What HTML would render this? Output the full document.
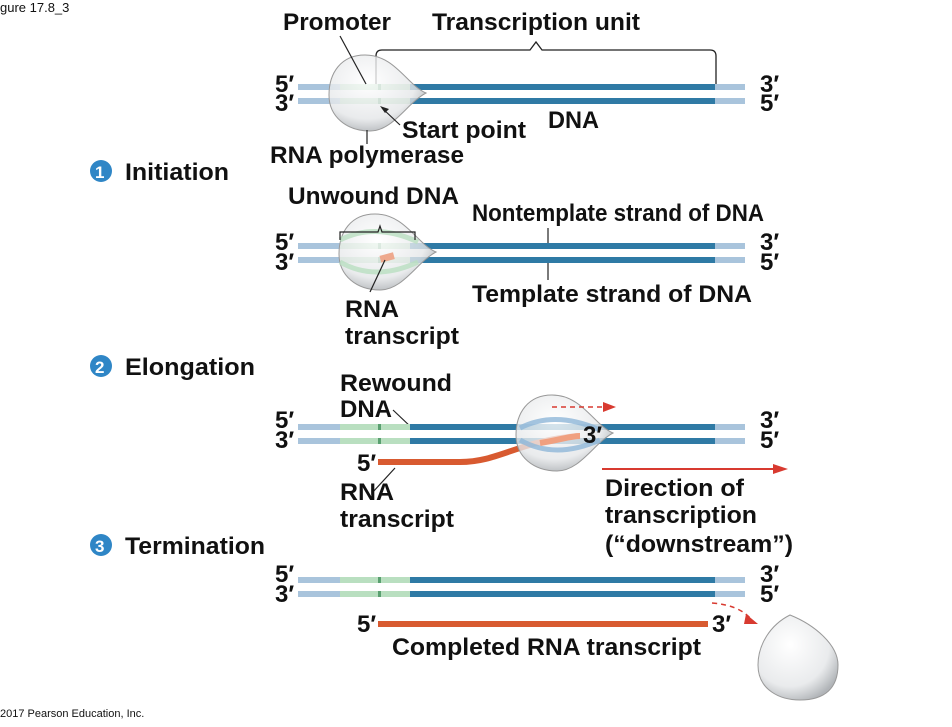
<!DOCTYPE html>
<html><head><meta charset="utf-8"><style>
body{margin:0;background:#fff;}
text{font-family:"Liberation Sans",Arial,sans-serif;font-weight:bold;fill:#111;}
</style></head><body>
<svg width="952" height="722" viewBox="0 0 952 722" xmlns="http://www.w3.org/2000/svg">
<defs>
<radialGradient id="pg" cx="0.4" cy="0.35" r="0.7">
<stop offset="0" stop-color="#ffffff" stop-opacity="0.8"/>
<stop offset="0.7" stop-color="#e4e6e8" stop-opacity="0.8"/>
<stop offset="1" stop-color="#a8acb0" stop-opacity="0.9"/>
</radialGradient>
<g id="strand">
<rect x="298" y="0" width="42" height="6" fill="#a9c4dc"/>
<rect x="340" y="0" width="70" height="6" fill="#b9dfc0"/>
<rect x="378" y="0" width="3" height="6" fill="#5aa070"/>
<rect x="410" y="0" width="305" height="6" fill="#2f7aa5"/>
<rect x="715" y="0" width="30" height="6" fill="#a9c4dc"/>
</g>
<path id="blob" d="M0,-38 C-24,-38 -36,-20 -36,2 C-36,24 -18,38 5,38 C28,38 42,10 61,0 C42,-8 30,-38 0,-38Z"/>
</defs>
<text x="0" y="12" font-size="13" style="font-weight:normal">gure 17.8_3</text>
<text x="0" y="717" font-size="11" style="font-weight:normal">2017 Pearson Education, Inc.</text>

<!-- Row 0 -->
<text x="283" y="30" font-size="24" textLength="108" lengthAdjust="spacingAndGlyphs">Promoter</text>
<text x="432" y="30" font-size="24" textLength="208" lengthAdjust="spacingAndGlyphs">Transcription unit</text>
<path d="M376,86 V56 Q376,50 382,50 H530 L536,42 L542,50 H710 Q716,50 716,56 V86" fill="none" stroke="#222" stroke-width="1.3"/>
<use href="#strand" y="84"/><use href="#strand" y="98"/>
<use href="#blob" transform="translate(365,93)" fill="url(#pg)" stroke="#999"/>
<line x1="340" y1="36" x2="366" y2="84" stroke="#222" stroke-width="1.2"/>
<line x1="367" y1="130" x2="367" y2="144" stroke="#222" stroke-width="1.2"/>
<line x1="400" y1="125" x2="382" y2="108" stroke="#222" stroke-width="1.2"/>
<path d="M380,106 l9,3 -4,4z" fill="#222"/>
<text x="275" y="92" font-size="24">5′</text><text x="275" y="111" font-size="24">3′</text>
<text x="760" y="92" font-size="24">3′</text><text x="760" y="111" font-size="24">5′</text>
<text x="402" y="138" font-size="24" textLength="124" lengthAdjust="spacingAndGlyphs">Start point</text>
<text x="548" y="128" font-size="24" textLength="51" lengthAdjust="spacingAndGlyphs">DNA</text>
<text x="270" y="163" font-size="24" textLength="194" lengthAdjust="spacingAndGlyphs">RNA polymerase</text>

<!-- Row 1 -->
<circle cx="101" cy="171" r="11" fill="#2f86c6"/><text x="95" y="178" font-size="17" style="fill:#fff">1</text>
<text x="125" y="180" font-size="24" textLength="104" lengthAdjust="spacingAndGlyphs">Initiation</text>
<text x="288" y="204" font-size="24" textLength="171" lengthAdjust="spacingAndGlyphs">Unwound DNA</text>
<text x="472" y="221" font-size="24" textLength="292" lengthAdjust="spacingAndGlyphs">Nontemplate strand of DNA</text>
<use href="#strand" y="243"/><use href="#strand" y="257"/>
<use href="#blob" transform="translate(375,252)" fill="url(#pg)" stroke="#999"/>
<path d="M340,240 Q375,222 418,242" fill="none" stroke="#b9dfc0" stroke-width="5" opacity="0.8"/>
<path d="M340,262 Q375,282 418,262" fill="none" stroke="#b9dfc0" stroke-width="5" opacity="0.8"/>
<rect x="380" y="254" width="14" height="7" fill="#eea98e" transform="rotate(-15 387 257)"/>
<path d="M340,240 V232 H378 L380,226 L382,232 H415 V240" fill="none" stroke="#222" stroke-width="1.2"/>
<line x1="548" y1="228" x2="548" y2="243" stroke="#222" stroke-width="1.2"/>
<line x1="548" y1="263" x2="548" y2="280" stroke="#222" stroke-width="1.2"/>
<line x1="385" y1="260" x2="370" y2="292" stroke="#222" stroke-width="1.2"/>
<text x="275" y="250" font-size="24">5′</text><text x="275" y="270" font-size="24">3′</text>
<text x="760" y="250" font-size="24">3′</text><text x="760" y="270" font-size="24">5′</text>
<text x="472" y="302" font-size="24" textLength="280" lengthAdjust="spacingAndGlyphs">Template strand of DNA</text>
<text x="345" y="317" font-size="24" textLength="54" lengthAdjust="spacingAndGlyphs">RNA</text>
<text x="345" y="344" font-size="24" textLength="114" lengthAdjust="spacingAndGlyphs">transcript</text>

<!-- Row 2 -->
<circle cx="101" cy="366" r="11" fill="#2f86c6"/><text x="95" y="373" font-size="17" style="fill:#fff">2</text>
<text x="125" y="375" font-size="24" textLength="130" lengthAdjust="spacingAndGlyphs">Elongation</text>
<text x="340" y="391" font-size="24" textLength="112" lengthAdjust="spacingAndGlyphs">Rewound</text>
<text x="340" y="417" font-size="24" textLength="52" lengthAdjust="spacingAndGlyphs">DNA</text>
<line x1="393" y1="410" x2="412" y2="428" stroke="#222" stroke-width="1.2"/>
<use href="#strand" y="424"/><use href="#strand" y="438"/>
<path d="M378,462 H460 C500,462 520,440 580,436" fill="none" stroke="#d85a30" stroke-width="6"/>
<use href="#blob" transform="translate(552,433)" fill="url(#pg)" stroke="#999"/>
<path d="M520,428 Q555,410 600,430" fill="none" stroke="#8fb6d8" stroke-width="5" opacity="0.8"/>
<path d="M520,440 Q555,460 600,440" fill="none" stroke="#8fb6d8" stroke-width="5" opacity="0.8"/>
<path d="M540,443 C560,440 570,436 580,436" fill="none" stroke="#f0a080" stroke-width="6"/>
<line x1="552" y1="407" x2="605" y2="407" stroke="#d83a30" stroke-width="1.5" stroke-dasharray="5,4"/>
<path d="M603,402 l13,5 -13,5z" fill="#d83a30"/>
<line x1="602" y1="469" x2="775" y2="469" stroke="#d83a30" stroke-width="2"/>
<path d="M773,464 l15,5 -15,5z" fill="#d83a30"/>
<line x1="372" y1="493" x2="395" y2="468" stroke="#222" stroke-width="1.2"/>
<text x="275" y="428" font-size="24">5′</text><text x="275" y="448" font-size="24">3′</text>
<text x="760" y="428" font-size="24">3′</text><text x="760" y="448" font-size="24">5′</text>
<text x="583" y="443" font-size="24">3′</text>
<text x="357" y="471" font-size="24">5′</text>
<text x="340" y="500" font-size="24" textLength="54" lengthAdjust="spacingAndGlyphs">RNA</text>
<text x="340" y="527" font-size="24" textLength="114" lengthAdjust="spacingAndGlyphs">transcript</text>
<text x="605" y="496" font-size="24" textLength="139" lengthAdjust="spacingAndGlyphs">Direction of</text>
<text x="605" y="523" font-size="24" textLength="152" lengthAdjust="spacingAndGlyphs">transcription</text>
<text x="605" y="552" font-size="24" textLength="188" lengthAdjust="spacingAndGlyphs">(“downstream”)</text>

<!-- Row 3 -->
<circle cx="101" cy="545" r="11" fill="#2f86c6"/><text x="95" y="552" font-size="17" style="fill:#fff">3</text>
<text x="125" y="554" font-size="24" textLength="140" lengthAdjust="spacingAndGlyphs">Termination</text>
<use href="#strand" y="577"/><use href="#strand" y="591"/>
<rect x="378" y="621" width="330" height="6" fill="#d85a30"/>
<text x="275" y="582" font-size="24">5′</text><text x="275" y="602" font-size="24">3′</text>
<text x="760" y="582" font-size="24">3′</text><text x="760" y="602" font-size="24">5′</text>
<text x="357" y="632" font-size="24">5′</text>
<text x="712" y="632" font-size="24">3′</text>
<text x="392" y="655" font-size="24" textLength="309" lengthAdjust="spacingAndGlyphs">Completed RNA transcript</text>
<path d="M712,603 Q738,605 750,618" fill="none" stroke="#d83a30" stroke-width="1.5" stroke-dasharray="5,4"/>
<path d="M746,614 l12,10 -14,0z" fill="#d83a30"/>
<path d="M790,615 C770,625 758,645 758,665 C758,690 780,700 800,700 C825,700 838,688 838,665 C838,645 815,625 790,615Z" fill="url(#pg)" stroke="#999"/>
</svg>
</body></html>
